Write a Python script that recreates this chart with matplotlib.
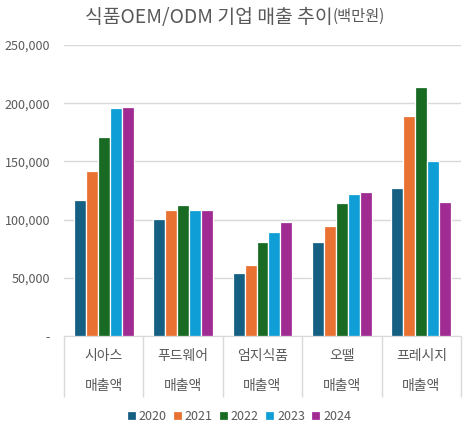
import matplotlib
matplotlib.use("Agg")
import matplotlib.pyplot as plt
import matplotlib.transforms as mtransforms
from matplotlib.ticker import FuncFormatter
import numpy as np

plt.rcParams['font.family'] = ['Noto Sans CJK KR', 'DejaVu Sans']

companies = ["시아스", "푸드웨어", "엄지식품", "오뗄", "프레시지"]
sub_label = "매출액"
years = ["2020", "2021", "2022", "2023", "2024"]
v2020 = [116500, 100800, 53800, 80500, 127100]
v2021 = [142000, 108000, 60700, 94200, 188800]
v2022 = [171000, 112300, 81000, 114000, 214300]
v2023 = [195600, 108000, 89000, 122300, 150000]
v2024 = [196700, 108000, 98000, 123700, 114900]
series = [v2020, v2021, v2022, v2023, v2024]
colors = ["#156082", "#E97132", "#196B24", "#0F9ED5", "#A02B93"]

W, H = 466, 429
fig = plt.figure(figsize=(W/100, H/100), dpi=100)
ax = fig.add_axes([64/W, 1-336/H, (461-64)/W, (336-45)/H])

x = np.arange(len(companies))
bw = 0.151
for i, (vals, c) in enumerate(zip(series, colors)):
    ax.bar(x + (i-2)*bw, vals, width=bw, color=c, edgecolor="white",
           linewidth=0.9, label=years[i], zorder=3)

ax.set_xlim(-0.5, len(companies)-0.5)
ax.set_ylim(0, 250000)
ax.set_yticks(np.arange(0, 250001, 50000))
ax.yaxis.set_major_formatter(FuncFormatter(lambda v, p: "-" if v == 0 else f"{int(v):,}"))
ax.grid(axis="y", color="#d9d9d9", linewidth=1, zorder=0)
for s in ["top", "right", "left"]:
    ax.spines[s].set_visible(False)
ax.spines["bottom"].set_color("#d9d9d9")
ax.tick_params(axis="y", length=0, labelsize=9, labelcolor="#595959", pad=10)

ax.set_xticks(x)
ax.set_xticklabels([])
ax.tick_params(axis="x", which="major", length=0)
ax.set_xticks(np.arange(-0.5, len(companies), 1.0), minor=True)
ax.tick_params(axis="x", which="minor", length=44, color="#d9d9d9", width=1)

trans = mtransforms.blended_transform_factory(ax.transData, ax.transAxes)
for xi, name in zip(x, companies):
    ax.text(xi, -20/291, name, transform=trans, ha="center", va="center",
            fontsize=10, color="#595959")
    ax.text(xi, -50/291, sub_label, transform=trans, ha="center", va="center",
            fontsize=10, color="#595959")

# title: main part + smaller unit part
ty = 1 - 17/H
t1 = fig.text(85/W, ty, "식품OEM/ODM 기업 매출 추이", ha="left", va="center",
              fontsize=13.5, color="#595959")
fig.canvas.draw()
r = fig.canvas.get_renderer()
bb = t1.get_window_extent(r)
t1.set_fontsize(13.5 * 248 / bb.width)
fig.canvas.draw()
bb = t1.get_window_extent(r)
fig.text(bb.x1 / W, ty + 1/H, "(백만원)", ha="left", va="center",
         fontsize=11, color="#595959")

fig.legend(loc="center", bbox_to_anchor=(239/W, 1-416/H), ncol=5,
           frameon=False, fontsize=9, handlelength=0.7, handleheight=0.7,
           handletextpad=0.25, columnspacing=0.5, labelcolor="#595959")

fig.savefig("out.png", dpi=100)
